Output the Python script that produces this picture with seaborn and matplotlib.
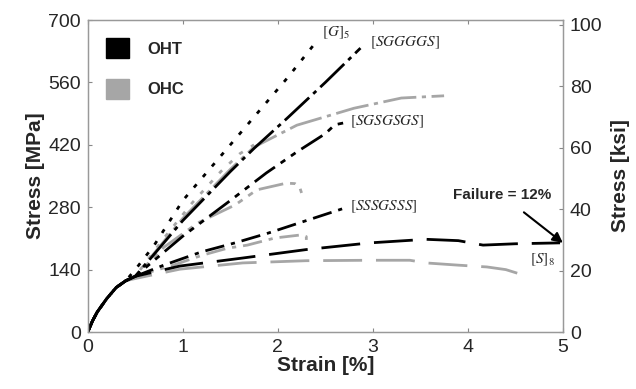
import matplotlib
matplotlib.use("Agg")
import matplotlib.pyplot as plt
from matplotlib.patches import Patch
import seaborn as sns

# initial shared rise (strain %, stress MPa)
init_strain = [0.0, 0.05, 0.1, 0.2, 0.3, 0.4]
init_stress = [0, 25, 45, 75, 100, 115]

# OHT (black)
g5_t_strain = [0.5, 0.7, 1.0, 1.4, 1.8, 2.1, 2.37]
g5_t_stress = [140, 195, 295, 395, 495, 570, 642]
sggggs_t_strain = [0.5, 1.0, 1.5, 1.75, 2.1, 2.5, 2.87]
sggggs_t_stress = [125, 250, 360, 412, 480, 560, 637]
sgsgsgs_t_strain = [0.5, 1.0, 1.5, 1.88, 2.2, 2.5, 2.6, 2.69]
sgsgsgs_t_stress = [125, 215, 295, 357, 404, 445, 465, 469]
sssgsss_t_strain = [0.5, 0.8, 1.2, 1.55, 1.9, 2.3, 2.73]
sssgsss_t_stress = [125, 150, 180, 200, 222, 250, 280]
s8_t_strain = [0.5, 0.97, 1.63, 2.3, 2.97, 3.56, 3.9, 4.16, 4.5, 4.97]
s8_t_stress = [125, 148, 166, 185, 200, 208, 205, 195, 198, 200]

# OHC (grey)
g5_c_strain = [0.5, 0.8, 1.1, 1.4, 1.6, 1.75]
g5_c_stress = [125, 210, 290, 360, 400, 420]
sggggs_c_strain = [0.5, 1.0, 1.5, 1.75, 2.2, 2.8, 3.3, 3.75]
sggggs_c_stress = [125, 255, 365, 415, 464, 502, 525, 530]
sgsgsgs_c_strain = [0.5, 0.8, 1.16, 1.55, 1.78, 2.09, 2.18, 2.23, 2.25]
sgsgsgs_c_stress = [125, 190, 245, 285, 319, 334, 333, 325, 312]
sssgsss_c_strain = [0.5, 0.9, 1.2, 1.47, 1.68, 1.97, 2.25, 2.3, 2.3]
sssgsss_c_stress = [125, 150, 172, 188, 195, 211, 218, 214, 205]
s8_c_strain = [0.5, 0.97, 1.63, 2.3, 2.97, 3.39, 3.56, 3.9, 4.2, 4.4, 4.52]
s8_c_stress = [120, 141, 155, 160, 161, 161, 155, 150, 146, 140, 132]

labels = ["$[G]_5$", "$[SGGGGS]$", "$[SGSGSGS]$", "$[SSSGSSS]$", "$[S]_8$"]
label_pos = [(2.47, 671), (2.97, 648), (2.76, 471), (2.76, 280), (4.65, 161)]

BLACK = "#000000"
GREY = "#a6a6a6"

sns.set_style("white")
plt.rcParams["font.family"] = ["Liberation Sans", "DejaVu Sans"]
plt.rcParams["mathtext.fontset"] = "stix"

fig = plt.figure(figsize=(6.36, 3.89), dpi=100)
ax = fig.add_axes([0.138, 0.1465, 0.747, 0.802])

styles = [(0, (1.5, 3.5)), (0, (12, 2, 1.5, 2)), (0, (9, 2.5, 2, 2.5, 2, 2.5)),
          (0, (7, 2.5, 1.5, 2.5)), (0, (14, 5))]
black_curves = [(g5_t_strain, g5_t_stress), (sggggs_t_strain, sggggs_t_stress),
                (sgsgsgs_t_strain, sgsgsgs_t_stress), (sssgsss_t_strain, sssgsss_t_stress),
                (s8_t_strain, s8_t_stress)]
grey_curves = [(g5_c_strain, g5_c_stress), (sggggs_c_strain, sggggs_c_stress),
               (sgsgsgs_c_strain, sgsgsgs_c_stress), (sssgsss_c_strain, sssgsss_c_stress),
               (s8_c_strain, s8_c_stress)]

for (xs, ys), ls in zip(grey_curves, styles):
    sns.lineplot(x=init_strain + xs, y=init_stress + ys, ax=ax, color=GREY,
                 lw=2, sort=False, estimator=None)
    ax.lines[-1].set_linestyle(ls)
for (xs, ys), ls in zip(black_curves, styles):
    sns.lineplot(x=init_strain + xs, y=init_stress + ys, ax=ax, color=BLACK,
                 lw=2, sort=False, estimator=None)
    ax.lines[-1].set_linestyle(ls)

for txt, (x, y) in zip(labels, label_pos):
    ax.text(x, y, txt, fontsize=11, ha="left", va="center")

ax.annotate("Failure = 12%", xy=(5.0, 200), xytext=(4.36, 307),
            fontsize=11, fontweight="bold", ha="center", va="center",
            arrowprops=dict(arrowstyle="-|>", color="black", lw=1.5,
                            shrinkA=8, shrinkB=0, mutation_scale=15))

ax.set_xlim(0, 5)
ax.set_ylim(0, 700)
ax.set_xticks([0, 1, 2, 3, 4, 5])
ax.set_yticks([0, 140, 280, 420, 560, 700])
ax.set_xlabel("Strain [%]", fontsize=15, fontweight="bold", labelpad=0)
ax.set_ylabel("Stress [MPa]", fontsize=15, fontweight="bold", labelpad=2)
ax.tick_params(direction="in", length=3, labelsize=14, color="#888888",
               top=True, bottom=True, left=True, right=False, pad=5)
for sp in ax.spines.values():
    sp.set_color("#999999")
    sp.set_linewidth(1)

ax2 = ax.twinx()
ax2.set_ylim(0, 700 / 6.895)
ax2.set_yticks([0, 20, 40, 60, 80, 100])
ax2.set_ylabel("Stress [ksi]", fontsize=15, fontweight="bold", labelpad=6)
ax2.tick_params(direction="in", length=3, labelsize=14, color="#888888", pad=5)
for sp in ax2.spines.values():
    sp.set_color("#999999")

handles = [Patch(facecolor=BLACK, edgecolor=BLACK), Patch(facecolor=GREY, edgecolor=GREY)]
leg = ax.legend(handles, ["OHT", "OHC"], loc="upper left", frameon=False,
                handlelength=1.4, handleheight=1.4, handletextpad=1.1,
                labelspacing=1.3, borderaxespad=0.7,
                prop=dict(size=12, weight="bold"))

fig.savefig("out.png", dpi=100)
